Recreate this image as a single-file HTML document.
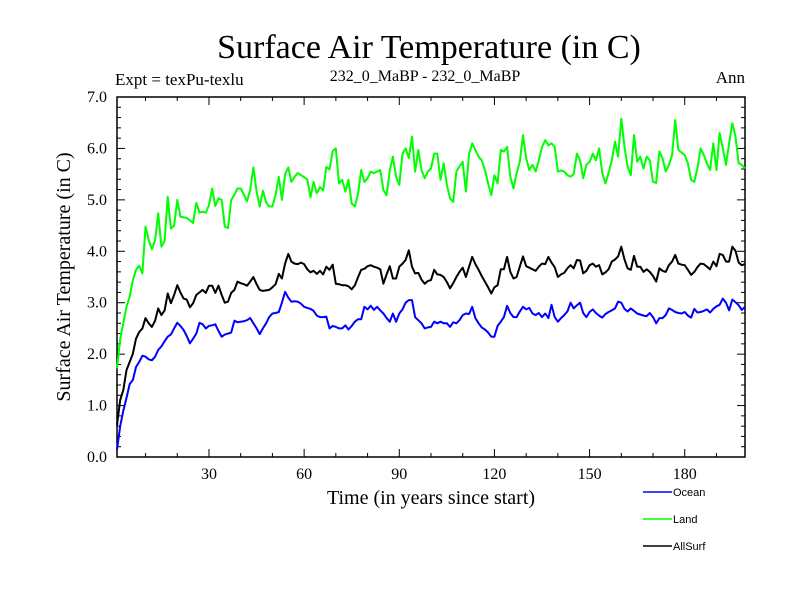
<!DOCTYPE html>
<html><head><meta charset="utf-8"><style>
html,body{margin:0;padding:0;background:#fff;}
svg{display:block;}
text{font-family:"Liberation Serif",serif;fill:#000;}
.sans{font-family:"Liberation Sans",sans-serif;}
</style></head><body>
<svg id="chart" width="800" height="600" viewBox="0 0 800 600">
<text x="429" y="58" font-size="34" text-anchor="middle">Surface Air Temperature (in C)</text>
<text x="115" y="85" font-size="17">Expt = texPu-texlu</text>
<text x="425" y="81" font-size="16" text-anchor="middle">232_0_MaBP - 232_0_MaBP</text>
<text x="745" y="83" font-size="17" text-anchor="end">Ann</text>
<text transform="translate(70,277) rotate(-90)" font-size="20" text-anchor="middle">Surface Air Temperature (in C)</text>
<text x="431" y="504" font-size="20" text-anchor="middle">Time (in years since start)</text>
<g id="axes"></g>
<g id="series"></g>
<g id="legend"></g>
</svg>
<script>
const years = [];
for (let i = 1; i <= 199; i++) years.push(i);
const seriesNames = ["Ocean", "Land", "AllSurf"];
const seriesColors = ["#0000ff", "#00ff00", "#000000"];
const xTicks = [30, 60, 90, 120, 150, 180];
const yTicks = [0, 1, 2, 3, 4, 5, 6, 7];
const yTickLabels = ["0.0","1.0","2.0","3.0","4.0","5.0","6.0","7.0"];
const ocean = [0.14,0.6,0.9,1.15,1.42,1.5,1.75,1.85,1.97,1.95,
1.9,1.88,1.95,2.08,2.15,2.25,2.34,2.38,2.5,2.61,
2.55,2.47,2.35,2.21,2.3,2.4,2.61,2.58,2.5,2.55,
2.56,2.58,2.45,2.34,2.38,2.4,2.42,2.65,2.62,2.63,
2.64,2.66,2.7,2.6,2.5,2.39,2.5,2.6,2.72,2.79,
2.8,2.82,3.0,3.21,3.1,3.02,3.03,3.02,2.98,2.92,
2.9,2.88,2.84,2.75,2.72,2.72,2.73,2.5,2.55,2.53,
2.5,2.5,2.56,2.48,2.55,2.63,2.68,2.68,2.92,2.87,
2.94,2.86,2.92,2.85,2.79,2.7,2.63,2.79,2.63,2.79,
2.87,3.0,3.05,3.05,2.72,2.66,2.6,2.5,2.52,2.53,
2.63,2.6,2.63,2.6,2.6,2.53,2.62,2.6,2.66,2.76,
2.79,2.78,2.92,2.7,2.6,2.52,2.48,2.42,2.34,2.34,
2.55,2.63,2.72,2.94,2.8,2.72,2.72,2.83,2.92,2.87,
2.9,2.79,2.76,2.8,2.72,2.79,2.7,2.96,2.72,2.63,
2.7,2.76,2.83,3.0,2.89,2.95,3.0,2.8,2.72,2.82,
2.87,2.8,2.75,2.71,2.78,2.82,2.85,2.89,3.02,3.0,
2.88,2.83,2.89,2.84,2.79,2.77,2.75,2.74,2.8,2.72,
2.6,2.7,2.7,2.76,2.89,2.86,2.82,2.8,2.79,2.82,
2.75,2.71,2.88,2.81,2.82,2.84,2.87,2.81,2.88,2.93,
2.96,3.08,3.0,2.85,3.06,3.01,2.95,2.86,2.92];
const land = [1.72,2.3,2.6,2.92,3.12,3.44,3.64,3.72,3.57,4.48,
4.22,4.04,4.22,4.74,4.09,4.2,5.06,4.44,4.5,5.0,
4.67,4.66,4.65,4.6,4.55,4.94,4.75,4.77,4.75,4.9,
5.22,4.88,5.03,5.0,4.48,4.45,5.0,5.1,5.22,5.22,
5.1,4.97,5.2,5.63,5.16,4.87,5.18,4.95,4.87,4.87,
5.1,5.45,5.0,5.5,5.63,5.35,5.45,5.52,5.48,5.44,
5.4,5.05,5.35,5.13,5.25,5.18,5.64,5.59,5.95,6.0,
5.32,5.39,5.16,5.39,4.93,4.87,5.13,5.58,5.35,5.42,
5.55,5.52,5.55,5.58,5.19,5.09,5.58,5.84,5.45,5.29,
5.9,6.0,5.81,6.23,5.55,5.97,5.58,5.42,5.55,5.61,
5.9,5.9,5.39,5.71,5.29,5.03,4.96,5.55,5.65,5.74,
5.16,5.9,6.1,5.97,5.84,5.77,5.58,5.32,5.09,5.48,
5.32,5.97,5.94,6.03,5.45,5.22,5.52,5.74,6.26,5.81,
5.58,5.68,5.55,5.77,6.03,6.16,6.06,6.1,6.03,5.55,
5.57,5.55,5.48,5.45,5.5,5.9,5.77,5.42,5.68,5.74,
5.9,5.77,6.0,5.52,5.32,5.52,5.77,6.13,5.84,6.58,
6.03,5.65,5.48,6.26,5.74,5.84,5.61,5.84,5.77,5.35,
5.33,5.94,5.81,5.55,5.68,5.87,6.55,5.97,5.92,5.87,
5.71,5.39,5.35,5.61,6.0,5.87,5.71,5.58,6.1,5.58,
6.3,6.0,5.68,6.1,6.49,6.23,5.71,5.68,5.61];
const allSurf = [0.62,1.11,1.3,1.69,1.85,2.01,2.3,2.43,2.5,2.7,
2.6,2.53,2.65,2.89,2.76,2.85,3.18,2.99,3.15,3.34,
3.2,3.08,3.06,2.91,2.99,3.15,3.2,3.25,3.19,3.33,
3.33,3.19,3.33,3.15,3.0,3.02,3.19,3.25,3.41,3.38,
3.36,3.33,3.41,3.5,3.36,3.25,3.23,3.24,3.25,3.3,
3.36,3.56,3.47,3.76,3.95,3.8,3.76,3.75,3.78,3.75,
3.65,3.59,3.62,3.56,3.62,3.55,3.7,3.64,3.74,3.37,
3.36,3.34,3.34,3.32,3.26,3.34,3.5,3.64,3.66,3.71,
3.73,3.7,3.68,3.65,3.37,3.55,3.71,3.47,3.47,3.7,
3.76,3.83,4.02,3.7,3.57,3.58,3.45,3.37,3.42,3.44,
3.64,3.55,3.54,3.5,3.4,3.28,3.38,3.5,3.6,3.68,
3.5,3.7,3.89,3.75,3.64,3.52,3.41,3.3,3.18,3.3,
3.34,3.65,3.65,3.89,3.6,3.47,3.5,3.7,3.9,3.71,
3.68,3.65,3.62,3.7,3.76,3.75,3.89,3.78,3.69,3.5,
3.55,3.58,3.67,3.73,3.67,3.83,3.82,3.57,3.62,3.73,
3.76,3.7,3.73,3.55,3.59,3.65,3.8,3.84,3.9,4.09,
3.84,3.67,3.64,3.91,3.7,3.7,3.6,3.65,3.6,3.52,
3.41,3.67,3.62,3.6,3.73,3.8,3.93,3.76,3.74,3.73,
3.64,3.54,3.6,3.69,3.76,3.75,3.7,3.65,3.8,3.71,
3.95,3.93,3.8,3.8,4.09,4.01,3.78,3.73,3.75];

const NS = "http://www.w3.org/2000/svg";
const L = 117, R = 745, T = 97, B = 457;
const xMin = 1, xMax = 199, yMin = 0, yMax = 7;
function xs(v){ return L + (v - xMin) / (xMax - xMin) * (R - L); }
function ys(v){ return B - (v - yMin) / (yMax - yMin) * (B - T); }
function mk(tag, attrs, parent){ const e = document.createElementNS(NS, tag); for (const k in attrs) e.setAttribute(k, attrs[k]); parent.appendChild(e); return e; }

const axes = document.getElementById("axes");
const frame = mk("rect", {x:L, y:T, width:R-L, height:B-T, fill:"none", stroke:"#000", "stroke-width":1.5}, axes);


for (let v = 10; v <= 190; v += 10) {
  const major = v % 30 === 0;
  const len = major ? 8 : 4;
  const x = xs(v);
  mk("line", {x1:x, y1:B, x2:x, y2:B-len, stroke:"#000", "stroke-width":1}, axes);
  mk("line", {x1:x, y1:T, x2:x, y2:T+len, stroke:"#000", "stroke-width":1}, axes);
}
xTicks.forEach(v => {
  const t = mk("text", {x:xs(v), y:B+22, "font-size":16, "text-anchor":"middle"}, axes);
  t.textContent = String(v);
  
  
});
for (let k = 0; k <= 35; k++) {
  const v = k * 0.2;
  const major = k % 5 === 0;
  const len = major ? 8 : 4;
  const y = ys(v);
  mk("line", {x1:L, y1:y, x2:L+len, y2:y, stroke:"#000", "stroke-width":1}, axes);
  mk("line", {x1:R, y1:y, x2:R-len, y2:y, stroke:"#000", "stroke-width":1}, axes);
}
yTicks.forEach((v, i) => {
  const t = mk("text", {x:107, y:ys(v)+5, "font-size":16, "text-anchor":"end"}, axes);
  t.textContent = yTickLabels[i];
  
  
});

const seriesG = document.getElementById("series");
[ocean, land, allSurf].forEach((arr, si) => {
  const pts = arr.map((v, i) => xs(years[i]).toFixed(1) + "," + ys(v).toFixed(1)).join(" ");
  const p = mk("polyline", {points:pts, fill:"none", stroke:seriesColors[si], "stroke-width":2, "stroke-linejoin":"round"}, seriesG);
  
  
});

const legend = document.getElementById("legend");
seriesNames.forEach((n, i) => {
  const y = 492 + i * 27;
  const ln = mk("line", {x1:643, y1:y, x2:672, y2:y, stroke:seriesColors[i], "stroke-width":1.5}, legend);
  
  
  const t = mk("text", {x:673, y:y+4, "font-size":11, class:"sans"}, legend);
  t.textContent = n;
  
  
});
</script>
</body></html>
